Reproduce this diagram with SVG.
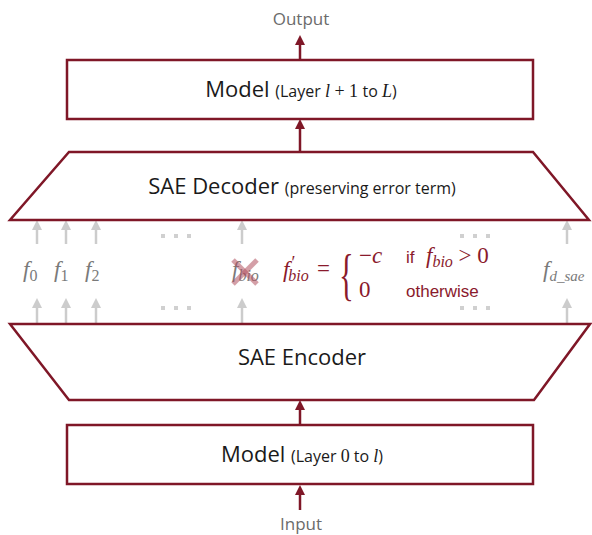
<svg xmlns="http://www.w3.org/2000/svg" width="592" height="535" viewBox="0 0 592 535">
<style>
.box{fill:#fff;stroke:#7f1727;stroke-width:2.5}
.conn{stroke:#7f1727;stroke-width:2.5;fill:none}
.gconn{stroke:#cccccc;stroke-width:2.5;fill:none}
.main{font-family:"Open Sans","Noto Sans",sans-serif;font-size:22px;fill:#1a1a1a}
.sub{font-size:16px}
.lbl{font-family:"Open Sans","Noto Sans",sans-serif;font-size:17px;fill:#6b6b6b}
.m{font-family:"Liberation Serif",serif;font-style:italic;font-size:18px}
.u{font-family:"Liberation Serif",serif;font-style:normal;font-size:18px}
.gm{font-family:"Liberation Serif",serif;font-size:23px;fill:#7a7a7a}
.rm{font-family:"Liberation Serif",serif;font-size:23px;fill:#8a1a2c}
.rs{font-family:"Liberation Sans",Arial,sans-serif;font-size:17px;fill:#8a1a2c}
.dot{fill:#d0d0d0}
</style>
<defs>
<marker id="ah" markerWidth="10" markerHeight="10" refX="5" refY="5" orient="auto" markerUnits="userSpaceOnUse">
<path d="M0,0 L10,5 L0,10 z" fill="#7f1727"/>
</marker>
<marker id="gh" markerWidth="10" markerHeight="10" refX="5" refY="5" orient="auto" markerUnits="userSpaceOnUse">
<path d="M0,0 L10,5 L0,10 z" fill="#cccccc"/>
</marker>
</defs>

<g id="connectors">
<line class="conn" x1="300" y1="59" x2="300" y2="40" marker-end="url(#ah)"/>
<line class="conn" x1="300" y1="152" x2="300" y2="124" marker-end="url(#ah)"/>
<line class="conn" x1="300" y1="425" x2="300" y2="405" marker-end="url(#ah)"/>
<line class="conn" x1="300" y1="510" x2="300" y2="490" marker-end="url(#ah)"/>
<g id="upper-arrows">
<line class="gconn" x1="37" y1="244" x2="37" y2="225" marker-end="url(#gh)"/>
<line class="gconn" x1="66" y1="244" x2="66" y2="225" marker-end="url(#gh)"/>
<line class="gconn" x1="96" y1="244" x2="96" y2="225" marker-end="url(#gh)"/>
<line class="gconn" x1="242" y1="244" x2="242" y2="225" marker-end="url(#gh)"/>
<line class="gconn" x1="567" y1="244" x2="567" y2="225" marker-end="url(#gh)"/>
</g>
<g id="lower-arrows">
<line class="gconn" x1="37" y1="323" x2="37" y2="303" marker-end="url(#gh)"/>
<line class="gconn" x1="66" y1="323" x2="66" y2="303" marker-end="url(#gh)"/>
<line class="gconn" x1="96" y1="323" x2="96" y2="303" marker-end="url(#gh)"/>
<line class="gconn" x1="242" y1="323" x2="242" y2="303" marker-end="url(#gh)"/>
<line class="gconn" x1="567" y1="323" x2="567" y2="303" marker-end="url(#gh)"/>
</g>
</g>

<g id="output">
<text class="lbl" x="301" y="25" text-anchor="middle">Output</text>
</g>
<g id="input">
<text class="lbl" x="301" y="530" text-anchor="middle">Input</text>
</g>

<g id="model-top">
<rect class="box" x="67" y="60" width="466" height="59"/>
<text class="main" x="301" y="97" text-anchor="middle">Model <tspan class="sub">(Layer <tspan class="m">l</tspan><tspan class="u"> + 1 </tspan>to <tspan class="m">L</tspan>)</tspan></text>
</g>

<g id="sae-decoder">
<polygon class="box" points="69,152 533,152 589,220 10,220"/>
<text class="main" x="302" y="194" text-anchor="middle">SAE Decoder <tspan class="sub">(preserving error term)</tspan></text>
</g>

<g id="sae-encoder">
<polygon class="box" points="10,324 590,324 534,400 69,400"/>
<text class="main" x="302" y="365" text-anchor="middle">SAE Encoder</text>
</g>

<g id="model-bottom">
<rect class="box" x="67" y="425" width="466" height="59"/>
<text class="main" x="302" y="462" text-anchor="middle">Model <tspan class="sub">(Layer <tspan class="u">0</tspan> to <tspan class="m">l</tspan>)</tspan></text>
</g>

<g id="dots">
<rect class="dot" x="161" y="234" width="4" height="4"/>
<rect class="dot" x="174" y="234" width="4" height="4"/>
<rect class="dot" x="187" y="234" width="4" height="4"/>
<rect class="dot" x="161" y="306" width="4" height="4"/>
<rect class="dot" x="174" y="306" width="4" height="4"/>
<rect class="dot" x="187" y="306" width="4" height="4"/>
<rect class="dot" x="460" y="234" width="4" height="4"/>
<rect class="dot" x="473" y="234" width="4" height="4"/>
<rect class="dot" x="486" y="234" width="4" height="4"/>
<rect class="dot" x="460" y="306" width="4" height="4"/>
<rect class="dot" x="473" y="306" width="4" height="4"/>
<rect class="dot" x="486" y="306" width="4" height="4"/>
</g>

<g id="features">
<text class="gm" x="23" y="277"><tspan font-style="italic">f</tspan><tspan font-size="16" dy="4">0</tspan></text>
<text class="gm" x="54" y="277"><tspan font-style="italic">f</tspan><tspan font-size="16" dy="4">1</tspan></text>
<text class="gm" x="85" y="277"><tspan font-style="italic">f</tspan><tspan font-size="16" dy="4">2</tspan></text>
<text class="gm" x="232" y="277"><tspan font-style="italic">f</tspan><tspan font-size="16" font-style="italic" dy="4">bio</tspan></text>
<g id="cross" stroke="#b0505f" stroke-opacity="0.55" stroke-width="5">
<line x1="233" y1="260" x2="257" y2="284"/>
<line x1="257" y1="260" x2="233" y2="284"/>
</g>
<text class="gm" x="543" y="277"><tspan font-style="italic">f</tspan><tspan font-size="15" font-style="italic" dy="4">d_sae</tspan></text>
</g>

<g id="formula">
<text class="rm" x="283" y="277"><tspan font-style="italic">f</tspan><tspan style="font-size:18px" dx="2" dy="-8">′</tspan><tspan style="font-size:16px;font-style:italic" dx="-7" dy="12">bio</tspan></text>
<text class="rm" x="317" y="276">=</text>
<text class="rm" transform="translate(339,294) scale(0.55,1)" x="0" y="0" style="font-size:56px">{</text>
<text class="rm" x="359" y="263">−<tspan font-style="italic">c</tspan></text>
<text class="rs" x="406" y="263">if</text>
<text class="rm" x="426" y="263"><tspan font-style="italic">f</tspan><tspan style="font-size:16px;font-style:italic" dy="4">bio</tspan><tspan dy="-4"> &gt; 0</tspan></text>
<text class="rm" x="359" y="297">0</text>
<text class="rs" x="406" y="297">otherwise</text>
</g>
</svg>
